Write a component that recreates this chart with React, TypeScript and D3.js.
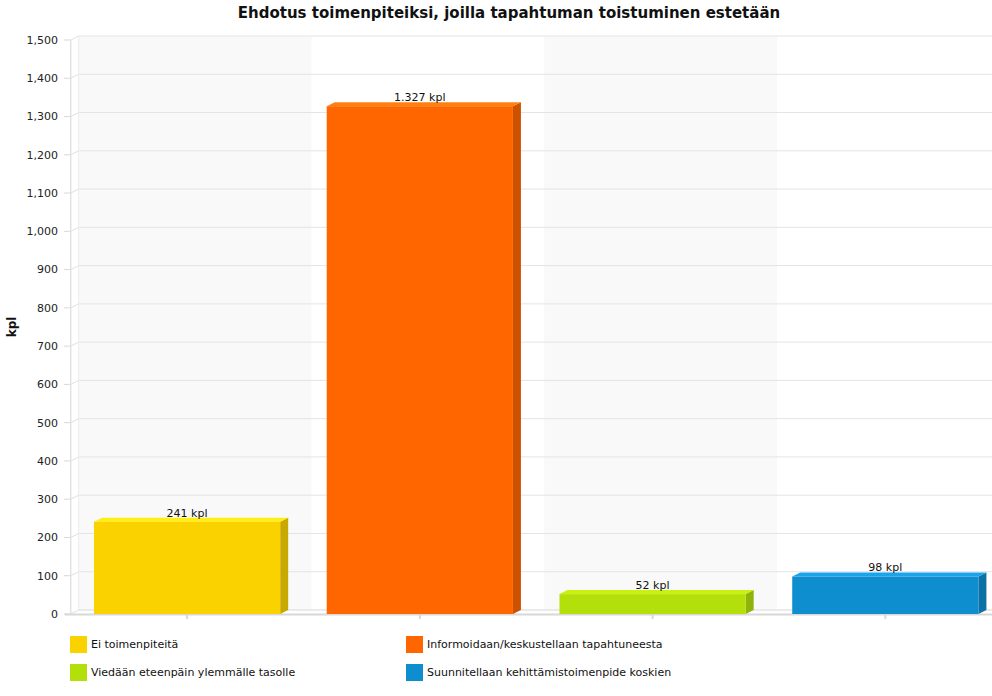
import React from "react";
import * as d3 from "d3";

const categories = [
  "Ei toimenpiteitä",
  "Informoidaan/keskustellaan tapahtuneesta",
  "Viedään eteenpäin ylemmälle tasolle",
  "Suunnitellaan kehittämistoimenpide koskien",
];
const values = [241, 1327, 52, 98];
const frontColors = ["#FAD200", "#FF6600", "#B3E00A", "#0F8ECF"];
const topColors = ["#FFEE10", "#FF8010", "#C8F010", "#1AA4EA"];
const sideColors = ["#C9A800", "#CC5200", "#8FB308", "#0C72A6"];
const yTicks = [0, 100, 200, 300, 400, 500, 600, 700, 800, 900, 1000, 1100, 1200, 1300, 1400, 1500];

const W = 992;
const H = 696;
const DX = 8;
const DY = -4;
const FONT = "Verdana, 'DejaVu Sans', sans-serif";

export default function App() {
  const x = d3
    .scaleBand<string>()
    .domain(categories)
    .range([70.7, 1001.7])
    .paddingInner(0.2)
    .paddingOuter(0.1);
  const xb = d3.scaleBand<string>().domain(categories).range([70.7, 1001.7]);
  const y = d3.scaleLinear().domain([0, 1500]).range([614, 40]);
  const axisFmt = d3.format(",");
  const labelFmt = d3.formatLocale({ decimal: ",", thousands: ".", grouping: [3], currency: ["", ""] }).format(",");
  const x0 = 70.7;
  const xEnd = 1001.7;

  return (
    <svg width={W} height={H} style={{ position: "absolute", left: 0, top: 0, display: "block" }} fontFamily={FONT}>
      <rect x={0} y={0} width={W} height={H} fill="#ffffff" />
      {/* alternating back bands */}
      {categories.map((c, i) =>
        i % 2 === 0 ? (
          <rect
            key={"band" + c}
            x={(xb(c) as number) + DX}
            y={y(1500) + DY}
            width={xb.step()}
            height={y(0) - y(1500)}
            fill="#f9f9f9"
          />
        ) : null
      )}
      {/* grid lines */}
      {yTicks.map((t) => (
        <g key={"g" + t}>
          <line x1={x0 + DX} x2={xEnd + DX} y1={y(t) + DY} y2={y(t) + DY} stroke="#e4e4e4" strokeWidth={1} />
          <line x1={x0} x2={x0 + DX} y1={y(t)} y2={y(t) + DY} stroke="#e0e0e0" strokeWidth={1} />
          <line x1={64} x2={x0} y1={y(t)} y2={y(t)} stroke="#d8d8d8" strokeWidth={1} />
          <text x={58} y={y(t)} dy="0.35em" textAnchor="end" fontSize={11} fill="#222">
            {axisFmt(t)}
          </text>
        </g>
      ))}
      {/* left wall */}
      <line x1={x0} x2={x0} y1={y(1500)} y2={y(0)} stroke="#e2e2e2" strokeWidth={1.5} />
      <line x1={x0 + DX} x2={x0 + DX} y1={y(1500) + DY} y2={y(0) + DY} stroke="#ececec" strokeWidth={1} />
      {/* floor */}
      <line x1={x0 + DX} x2={xEnd + DX} y1={y(0) + DY} y2={y(0) + DY} stroke="#e4e4e4" strokeWidth={1} />
      <line x1={x0 - 6} x2={xEnd} y1={y(0) + 0.5} y2={y(0) + 0.5} stroke="#d8d8d8" strokeWidth={2} />
      {/* x ticks */}
      {categories.map((c) => {
        const cx = (xb(c) as number) + xb.bandwidth() / 2;
        return <line key={"xt" + c} x1={cx} x2={cx} y1={y(0)} y2={y(0) + 5} stroke="#d8d8d8" strokeWidth={2} />;
      })}
      {/* bars */}
      {categories.map((c, i) => {
        const bx = x(c) as number;
        const bw = x.bandwidth();
        const top = y(values[i]);
        const bottom = y(0);
        const topFace = `${bx},${top} ${bx + DX},${top + DY} ${bx + bw + DX},${top + DY} ${bx + bw},${top}`;
        const sideFace = `${bx + bw},${top} ${bx + bw + DX},${top + DY} ${bx + bw + DX},${bottom + DY} ${bx + bw},${bottom}`;
        return (
          <g key={"bar" + c}>
            <polygon points={sideFace} fill={sideColors[i]} />
            <polygon points={topFace} fill={topColors[i]} />
            <rect x={bx} y={top} width={bw} height={bottom - top} fill={frontColors[i]} />
            <text x={bx + bw / 2} y={top + DY - 1} textAnchor="middle" fontSize={11} fill="#111">
              {labelFmt(values[i]) + " kpl"}
            </text>
          </g>
        );
      })}
      {/* title */}
      <text x={509} y={18} textAnchor="middle" fontSize={15} fontWeight="bold" fill="#111">
        Ehdotus toimenpiteiksi, joilla tapahtuman toistuminen estetään
      </text>
      {/* y axis title */}
      <text transform="translate(16,327) rotate(-90)" textAnchor="middle" fontSize={12} fontWeight="bold" fill="#111">
        kpl
      </text>
      {/* legend */}
      {categories.map((c, i) => {
        const lx = i % 2 === 0 ? 70 : 406;
        const ly = i < 2 ? 636 : 664;
        return (
          <g key={"lg" + c}>
            <rect x={lx} y={ly} width={17} height={17} fill={frontColors[i]} />
            <text x={lx + 21} y={ly + 8.5} dy="0.35em" fontSize={11} fill="#111">
              {c}
            </text>
          </g>
        );
      })}
    </svg>
  );
}
